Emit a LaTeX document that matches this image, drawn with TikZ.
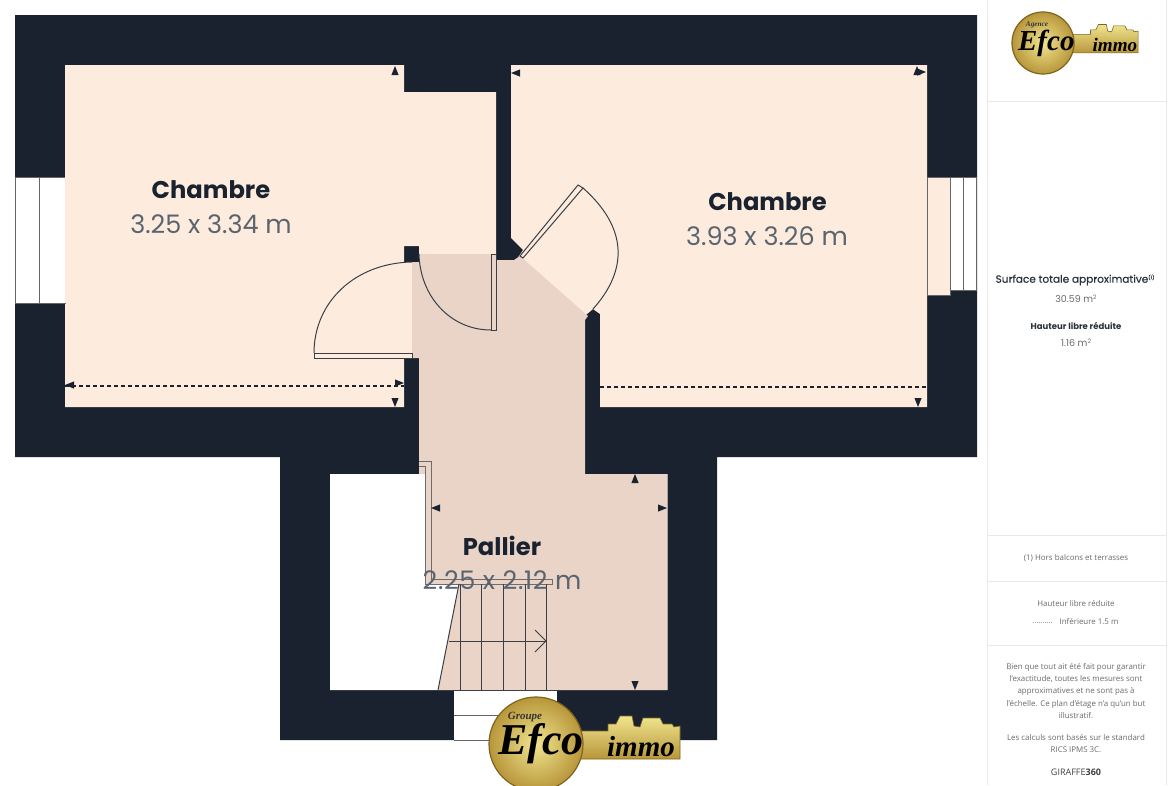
\documentclass[tikz,border=0pt]{standalone}
\usepackage{fontspec}
\setmainfont{Open Sans}
\newfontfamily\roomfont{Poppins}
\newfontfamily\roomfontmed[FakeBold=0.35]{Poppins}
\newfontfamily\logofont{Liberation Serif}
\definecolor{wall}{HTML}{19222E}
\definecolor{roomA}{HTML}{FDECDD}
\definecolor{roomB}{HTML}{E9D4C7}
\definecolor{linec}{HTML}{3A3F45}
\definecolor{panel}{HTML}{E9E9E9}
\definecolor{dimc}{HTML}{5A6470}
\definecolor{sidec}{HTML}{6B6B6B}
\definecolor{goldA}{HTML}{F0E58F}
\definecolor{goldB}{HTML}{B8963A}
\definecolor{goldC}{HTML}{7F6420}
\tikzset{
  x=1pt,y=-1pt,
  thin line/.style={draw=linec,line width=1pt},
  room name/.style={font=\roomfont\bfseries\fontsize{24.2}{25}\selectfont,text=wall,inner sep=0pt},
  room dim/.style={font=\roomfont\fontsize{25.5}{26}\selectfont,text=dimc,inner sep=0pt},
  side/.style={font=\fontsize{7.9}{12.3}\selectfont,text=sidec,align=center,inner sep=0pt},
  panel line/.style={draw=panel,line width=1pt},
  marker/.style={fill=wall,draw=none},
  window/.style={fill=white,draw=gray!80!black,line width=0.8pt},
}
% triangle marker: #1 x, #2 y, #3 rotation (0 = pointing up)
\newcommand{\tick}[3]{\fill[marker,shift={(#1,#2)},rotate=#3] (0,-5) -- (3.6,4) -- (-3.6,4) -- cycle;}
% logo: #1 x of circle centre, #2 y, #3 scale, #4 small word, #5 x and y of the small word, #6 x of immo
\newcommand{\logokey}[6]{%
  \pgfmathsetmacro{\fsa}{#3*11}\pgfmathsetmacro{\fsb}{#3*44}\pgfmathsetmacro{\fsc}{#3*29}%
  \begin{scope}[shift={(#1,#2)},scale=#3]
    \shade[top color=goldA,bottom color=goldB,draw=goldC,line width=0.6pt]
      (30,-13) -- (72,-13) -- (72,-20) -- (80,-20) -- (84,-28) -- (96,-28) -- (98,-18)
      -- (104,-17) -- (107,-26) -- (124,-26) -- (127,-20) -- (136,-20) -- (138,-17)
      -- (144,-18) -- (144,15) -- (30,15) -- cycle;
    \shade[inner color=goldA,outer color=goldB,draw=goldC,line width=1.2pt] (0,0) circle (47);
    \node[font=\logofont\bfseries\itshape\fontsize{\fsa}{\fsa}\selectfont,text=black!80,inner sep=0pt] at (#5) {#4};
    \node[font=\logofont\bfseries\itshape\fontsize{\fsb}{\fsb}\selectfont,text=black,inner sep=0pt] at (5,0) {Efco};
    \node[font=\logofont\bfseries\itshape\fontsize{\fsc}{\fsc}\selectfont,text=black,inner sep=0pt] at (#6,3) {immo};
  \end{scope}}
\begin{document}
\begin{tikzpicture}
\useasboundingbox (0,0) rectangle (1170,785);
\clip (0,0) rectangle (1170,785);
\fill[white] (0,0) rectangle (1170,785);
% walls
\fill[wall] (15,15) -- (977,15) -- (977,457) -- (717,457) -- (717,740) -- (280,740) -- (280,457) -- (15,457) -- cycle;
% void under the landing
\fill[white] (330,474) -- (419,474) -- (425,474) -- (425,584) -- (459,584) -- (438,690) -- (330,690) -- cycle;
% left room
\fill[roomA] (65,65) -- (404,65) -- (404,92) -- (496,92) -- (496,254) -- (419,254) -- (419,246) -- (404,246) -- (404,358) -- (404,407) -- (65,407) -- cycle;
\fill[roomA] (404,262) rectangle (412,358);
% right room
\fill[roomA] (511,65) -- (927,65) -- (927,407) -- (600,407) -- (600,314) -- (593,309) -- (580,320) -- (515,262) -- (523,250) -- (511,238) -- cycle;
% landing
\fill[roomB] (419,254) -- (496,254) -- (496,260) -- (514,260) -- (520,256) -- (588,316) -- (585,320) -- (585,474) -- (667,474) -- (667,690) -- (438,690) -- (459,584) -- (425,584) -- (425,474) -- (419,474) -- (419,358) -- (412,358) -- (412,262) -- (419,262) -- cycle;
% windows
\draw[window] (15,177) rectangle (39,303);
\draw[window] (39,177) rectangle (65,303);
\fill[roomA] (65,177) rectangle (66,303);
\fill[roomA] (927,177) -- (950,177) -- (950,295) -- (927,295) -- cycle;
\draw[gray!80!black,line width=0.8pt] (927,295) -- (950,295) -- (950,177) -- (927,177) -- cycle;
\draw[window] (950,177) rectangle (963,290);
\draw[window] (963,177) rectangle (976,290);
% doors
\draw[thin line,fill=roomA] (314,353) rectangle (412,358);
\draw[thin line] (314,353) .. controls (314,302) and (355,263) .. (412,262);
\draw[thin line,fill=roomB] (491,254) rectangle (496,330);
\draw[thin line] (419,254) .. controls (420,296) and (450,330) .. (491,330);
\draw[thin line,fill=roomA] (520,256) -- (578,185) -- (583,188) -- (523,258) -- cycle;
\draw[thin line] (583,188) .. controls (628,228) and (628,270) .. (593,309);
% landing frame and stairs
\draw[gray!85!black,line width=0.9pt] (419,461) -- (431,461) -- (431,579) -- (552,579) -- (552,584) -- (425,584) -- (425,466) -- (419,466);
\draw[thin line] (459,584) -- (438,690);
\foreach \sx in {460,481.5,503,525,546.5} \draw[thin line] (\sx,584) -- (\sx,690);
\draw[thin line] (449,641) -- (546,641);
\draw[thin line] (535,630) -- (546,641) -- (535,652);
\draw[thin line] (438,690) -- (667,690);
\draw[gray!70,line width=1pt] (667,474) -- (667,690);
% opening in the south wall
\fill[white] (454,691) rectangle (557,740);
\draw[gray!80!black,line width=0.8pt] (454,715) -- (557,715);
\draw[gray!80!black,line width=0.8pt] (454,740) -- (557,740);
% reduced height lines
\draw[wall,line width=1.7pt,dash pattern=on 4pt off 3pt] (65,386) -- (404,386);
\draw[wall,line width=1.7pt,dash pattern=on 4pt off 3pt] (600,387) -- (927,387);
% markers
\tick{395}{71}{0}\tick{395}{402}{180}\tick{70}{385}{90}\tick{399}{383}{-90}
\tick{516}{73}{90}\tick{917}{71}{0}\tick{921}{72}{-90}\tick{918}{402}{180}
\tick{635}{479}{0}\tick{436}{508}{90}\tick{662}{508}{-90}\tick{635}{685}{180}
% room labels
\node[room name] (n1) at (211,190) {Chambre};
\node[room dim] (d1) at (211,224) {3.25 x 3.34 m};
\node[room name] (n2) at (767.5,202) {Chambre};
\node[room dim] (d2) at (767,236) {3.93 x 3.26 m};
\node[room name] (n3) at (502,546) {Pallier};
\node[room dim] (d3) at (502,580) {\addfontfeature{LetterSpace=2.7}2.25 x 2.12 m};
% side panel
\draw[panel line] (987,0) -- (987,785);
\draw[panel line] (1166,0) -- (1166,785);
\foreach \ly in {101,535,581,645} \draw[panel line] (987,\ly) -- (1166,\ly);
\node[font=\roomfontmed\fontsize{10.5}{12}\selectfont,text=wall!85!gray,inner sep=0pt] (s1) at (1075,280) {Surface totale approximative\raisebox{3.5pt}{\fontsize{5}{5}\selectfont(1)}};
\node[font=\roomfont\fontsize{9.5}{12}\selectfont,text=sidec,inner sep=0pt] (s2) at (1076,299) {30.59 m\raisebox{3pt}{\fontsize{6}{6}\selectfont 2}};
\node[font=\roomfont\bfseries\fontsize{8.5}{12}\selectfont,text=wall!85!gray,inner sep=0pt] (s3) at (1076,326) {Hauteur libre réduite};
\node[font=\roomfont\fontsize{9.5}{12}\selectfont,text=sidec,inner sep=0pt] (s4) at (1076,343) {1.16 m\raisebox{3pt}{\fontsize{6}{6}\selectfont 2}};
\node[side] (s5) at (1076,558) {(1) Hors balcons et terrasses};
\node[side] (s6) at (1076,604) {Hauteur libre réduite};
\node[side] (s7) at (1089,622) {Inférieure 1.5 m};
\draw[gray!70,line width=0.8pt,dash pattern=on 1pt off 1pt] (1033,622) -- (1053,622);
\node[side] (s8) at (1076,691) {Bien que tout ait été fait pour garantir\\l'exactitude, toutes les mesures sont\\approximatives et ne sont pas à\\l'échelle. Ce plan d'étage n'a qu'un but\\illustratif.};
\node[side] (s9) at (1076,743.5) {Les calculs sont basés sur le standard\\RICS IPMS 3C.};
\node[font=\fontsize{9}{12}\selectfont,text=black!75,inner sep=0pt] (s10) at (1076,772) {GIRAFFE\textbf{360}};
% logos
\logokey{1043}{43}{0.66}{Agence}{-9,-27}{109}
\logokey{536}{744}{1}{Groupe}{-11,-27}{105}
\end{tikzpicture}
\end{document}
